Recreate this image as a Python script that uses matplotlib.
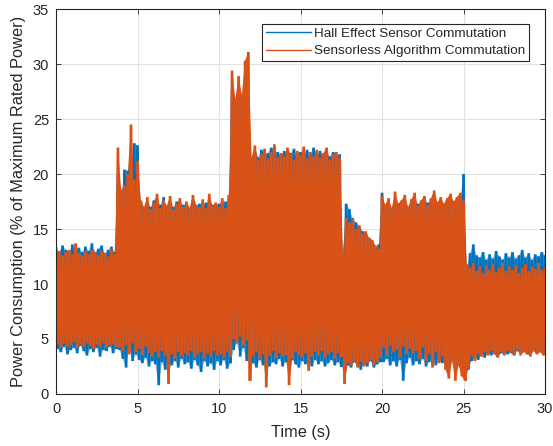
import numpy as np
import matplotlib
matplotlib.use("Agg")
import matplotlib.pyplot as plt
from matplotlib.lines import Line2D

plt.rcParams['font.family'] = ['Liberation Sans', 'DejaVu Sans']

# Sample times (s) at which the signal peaks were taken
t_step = 0.2
time_s = np.round(np.arange(0, 30.0001, t_step), 2)

# Hall effect sensor commutation: upper / lower peak power (% of rated)
hall_hi = [
    13.2, 12.9, 13.5, 13.1, 12.8, 13.6, 13.0, 13.3, 12.9, 13.4,
    13.0, 13.7, 12.9, 13.2, 13.5, 12.8, 13.1, 13.4, 12.9, 20.0,
    17.8, 20.4, 20.3, 19.5, 22.8, 22.6, 17.5, 16.9, 17.4, 17.0,
    17.6, 16.8, 17.2, 17.9, 16.9, 17.3, 17.0, 17.5, 16.8, 17.2,
    17.1, 16.9, 17.6, 17.0, 17.3, 16.8, 17.4, 17.0, 17.2, 16.9,
    17.3, 17.0, 17.5, 17.2, 27.6, 26.4, 27.3, 26.0, 27.0, 26.5,
    21.3, 22.0, 21.5, 22.2, 21.6, 21.9, 22.4, 21.4, 22.0, 21.7,
    22.1, 21.5, 21.9, 22.3, 21.6, 22.0, 21.4, 22.2, 21.8, 22.4,
    21.7, 22.1, 21.5, 21.9, 21.6, 22.0, 21.5, 21.8, 12.3, 17.3,
    16.8, 16.0, 15.6, 15.3, 14.8, 14.6, 14.2, 13.8, 13.2, 13.6,
    18.3, 16.8, 17.2, 16.9, 17.0, 17.3, 16.7, 17.1, 16.8, 17.2,
    16.9, 17.3, 16.8, 17.0, 17.4, 16.7, 17.1, 16.9, 17.2, 16.8,
    17.0, 17.3, 16.9, 17.2, 17.5, 20.0, 11.5, 12.8, 13.6, 12.6,
    12.4, 12.9, 12.2, 12.7, 12.3, 13.0, 12.5, 12.2, 12.8, 12.4,
    12.9, 12.3, 12.6, 13.1, 12.4, 12.8, 12.2, 12.7, 12.5, 12.9,
    12.6,
]
hall_lo = [
    4.1, 3.8, 4.3, 3.6, 4.0, 4.2, 3.7, 4.4, 3.9, 3.5,
    4.1, 3.8, 4.2, 3.4, 4.0, 3.9, 4.3, 3.7, 4.1, 4.0,
    3.2, 2.4, 4.5, 3.0, 3.6, 3.1, 2.8, 3.3, 2.5, 3.0,
    2.7, 0.8, 2.9, 2.2, 3.1, 2.6, 3.0, 2.4, 3.2, 2.7,
    2.9, 2.3, 3.1, 2.6, 2.0, 3.0, 2.5, 2.8, 2.2, 3.0,
    2.6, 3.1, 2.3, 2.8, 4.0, 4.6, 3.4, 4.2, 3.0, 3.9,
    2.8, 2.4, 3.1, 2.6, 3.0, 2.5, 2.9, 2.7, 3.2, 2.5,
    2.9, 2.6, 3.1, 2.7, 2.4, 3.0, 2.7, 2.9, 2.5, 3.1,
    2.7, 3.0, 2.5, 2.8, 3.1, 2.6, 2.9, 2.5, 2.7, 2.6,
    2.4, 2.9, 2.6, 2.2, 2.8, 2.5, 3.0, 2.4, 2.7, 2.9,
    2.9, 3.2, 2.6, 3.0, 2.5, 3.1, 1.2, 2.8, 3.3, 2.6,
    3.0, 2.7, 3.2, 2.5, 2.9, 3.1, 2.6, 3.0, 2.8, 3.2,
    2.7, 3.0, 2.6, 3.1, 2.9, 3.3, 2.2, 3.0, 3.4, 3.1,
    3.6, 3.3, 3.8, 3.5, 3.9, 3.4, 3.7, 4.0, 3.6, 3.8,
    3.5, 3.9, 3.7, 4.0, 3.6, 3.8, 4.1, 3.7, 3.9, 3.6,
    3.8,
]

# Sensorless algorithm commutation: upper / lower peak power (% of rated)
sensorless_hi = [
    12.8, 13.0, 12.6, 12.9, 13.1, 12.7, 13.7, 12.8, 12.6, 13.0,
    12.7, 13.1, 12.9, 12.6, 13.0, 12.8, 12.5, 13.2, 12.7, 22.4,
    18.5, 19.0, 20.0, 24.5, 19.5, 21.2, 17.6, 17.0, 17.9, 16.8,
    17.4, 18.2, 16.9, 17.6, 17.1, 18.0, 16.8, 17.3, 17.8, 17.0,
    17.5, 16.9, 18.1, 17.2, 17.0, 17.7, 16.9, 18.2, 17.1, 17.4,
    17.0, 17.8, 16.9, 18.1, 29.4, 26.8, 28.9, 27.2, 30.3, 31.1,
    21.5, 22.6, 21.3, 21.8, 22.3, 21.4, 22.0, 22.7, 21.5, 21.9,
    21.6, 22.4, 21.8, 21.3, 22.1, 21.7, 22.5, 21.4, 22.0, 21.6,
    22.2, 21.5, 21.9, 22.4, 21.3, 21.8, 22.0, 21.5, 13.0, 16.0,
    15.6, 15.9, 15.0, 15.3, 14.6, 14.8, 14.2, 14.0, 13.5, 13.2,
    18.0, 17.2, 17.8, 16.9, 18.4, 17.3, 17.6, 18.1, 17.0, 17.7,
    18.3, 17.1, 17.6, 18.0, 17.2, 17.8, 18.5, 17.4, 17.9, 17.3,
    17.8, 18.2, 17.5, 17.9, 18.3, 17.6, 11.8, 11.5, 11.9, 11.2,
    11.6, 11.0, 11.7, 11.3, 11.8, 11.1, 11.5, 11.9, 11.2, 11.6,
    11.3, 11.7, 11.0, 11.5, 11.8, 11.2, 11.6, 11.4, 11.9, 11.3,
    11.5,
]
sensorless_lo = [
    4.5, 4.2, 4.6, 4.3, 4.4, 4.7, 4.2, 4.5, 4.3, 4.6,
    4.4, 4.1, 4.5, 4.3, 4.6, 4.2, 4.4, 4.5, 4.3, 4.2,
    3.9, 4.4, 3.6, 4.6, 3.8, 4.1, 3.5, 4.3, 3.7, 3.4,
    3.8, 3.3, 3.9, 3.5, 0.9, 3.6, 3.2, 3.8, 3.4, 3.7,
    3.5, 3.9, 3.3, 3.6, 3.8, 3.2, 3.7, 3.4, 3.9, 3.5,
    3.6, 3.3, 3.8, 3.4, 5.0, 4.6, 5.2, 4.4, 4.9, 1.2,
    3.4, 3.8, 3.2, 3.6, 0.6, 3.5, 3.9, 3.3, 3.7, 3.4,
    3.5, 0.8, 3.2, 3.8, 3.5, 3.3, 3.7, 2.1, 3.4, 3.8,
    3.5, 3.9, 3.3, 3.6, 3.8, 3.2, 3.7, 3.4, 0.9, 2.8,
    2.6, 3.0, 2.4, 2.9, 2.5, 2.8, 3.1, 2.6, 2.9, 3.3,
    4.2, 3.5, 4.4, 3.8, 4.0, 3.3, 4.3, 3.6, 4.1, 3.7,
    3.9, 3.2, 4.2, 3.0, 3.6, 2.4, 3.8, 2.8, 3.4, 2.2,
    1.4, 3.0, 1.2, 2.6, 1.6, 1.2, 2.3, 3.4, 3.0, 3.6,
    3.4, 3.8, 3.5, 3.9, 3.6, 3.3, 3.8, 3.5, 3.9, 3.7,
    3.6, 4.0, 3.5, 3.8, 3.7, 3.4, 3.9, 3.6, 3.8, 3.5,
    3.7,
]

series_names = ["Hall Effect Sensor Commutation",
                "Sensorless Algorithm Commutation"]
series_colors = ["#0072BD", "#D95319"]
band_alpha = [0.55, 1.0]

x_ticks = [0, 5, 10, 15, 20, 25, 30]
y_ticks = [0, 5, 10, 15, 20, 25, 30, 35]


def swing(t, hi, lo, dt):
    """Trace that swings from each upper peak to the following lower peak."""
    t = np.asarray(t, float)
    xs = np.column_stack([t, t + dt / 2]).ravel()
    ys = np.column_stack([np.asarray(hi, float), np.asarray(lo, float)]).ravel()
    return xs, ys


def band_outline(t, hi, lo, dt):
    """Closed outline running over the upper peaks and back under the lower peaks."""
    t = np.asarray(t, float)
    xs = np.concatenate([t, (t + dt / 2)[::-1]])
    ys = np.concatenate([np.asarray(hi, float), np.asarray(lo, float)[::-1]])
    return xs, ys


fig = plt.figure(figsize=(5.53, 4.46), dpi=100)
ax = fig.add_axes([0.1013, 0.1166, 0.8843, 0.8632])

ink = "#262626"
series = [(hall_hi, hall_lo), (sensorless_hi, sensorless_lo)]
handles = []
for (hi, lo), name, color, a in zip(series, series_names, series_colors, band_alpha):
    bx, by = band_outline(time_s, hi, lo, t_step)
    ax.fill(bx, by, facecolor=color, edgecolor='none', lw=0, alpha=a)
    xs, ys = swing(time_s, hi, lo, t_step)
    ax.plot(xs, ys, color=color, lw=2.0, solid_joinstyle='miter')
    handles.append(Line2D([], [], color=color, lw=1.0, label=name))

ax.set_xlim(0, 30)
ax.set_ylim(0, 35)
ax.set_xticks(x_ticks)
ax.set_yticks(y_ticks)
ax.grid(True, color="#E2E2E2", lw=0.8)
ax.set_axisbelow(True)
ax.tick_params(direction='in', length=3.5, width=0.6, colors=ink,
               labelsize=10.5, top=True, right=True)
ax.tick_params(axis='x', pad=6)
ax.tick_params(axis='y', pad=5)
for sp in ax.spines.values():
    sp.set_color(ink)
    sp.set_linewidth(0.8)

ax.set_xlabel("Time (s)", fontsize=11.8, color=ink, labelpad=6)
ax.set_ylabel("Power Consumption (% of Maximum Rated Power)", fontsize=11.8,
              color=ink, labelpad=5)

leg = ax.legend(handles=handles, loc='upper right', bbox_to_anchor=(0.968, 0.962),
                fontsize=9.7, frameon=True, fancybox=False, framealpha=1,
                edgecolor=ink, borderpad=0.3, handlelength=3.4, handletextpad=0.2,
                labelspacing=0.35, borderaxespad=0)
leg.get_frame().set_linewidth(0.8)
for txt in leg.get_texts():
    txt.set_color(ink)

fig.savefig("out.png", dpi=100)
